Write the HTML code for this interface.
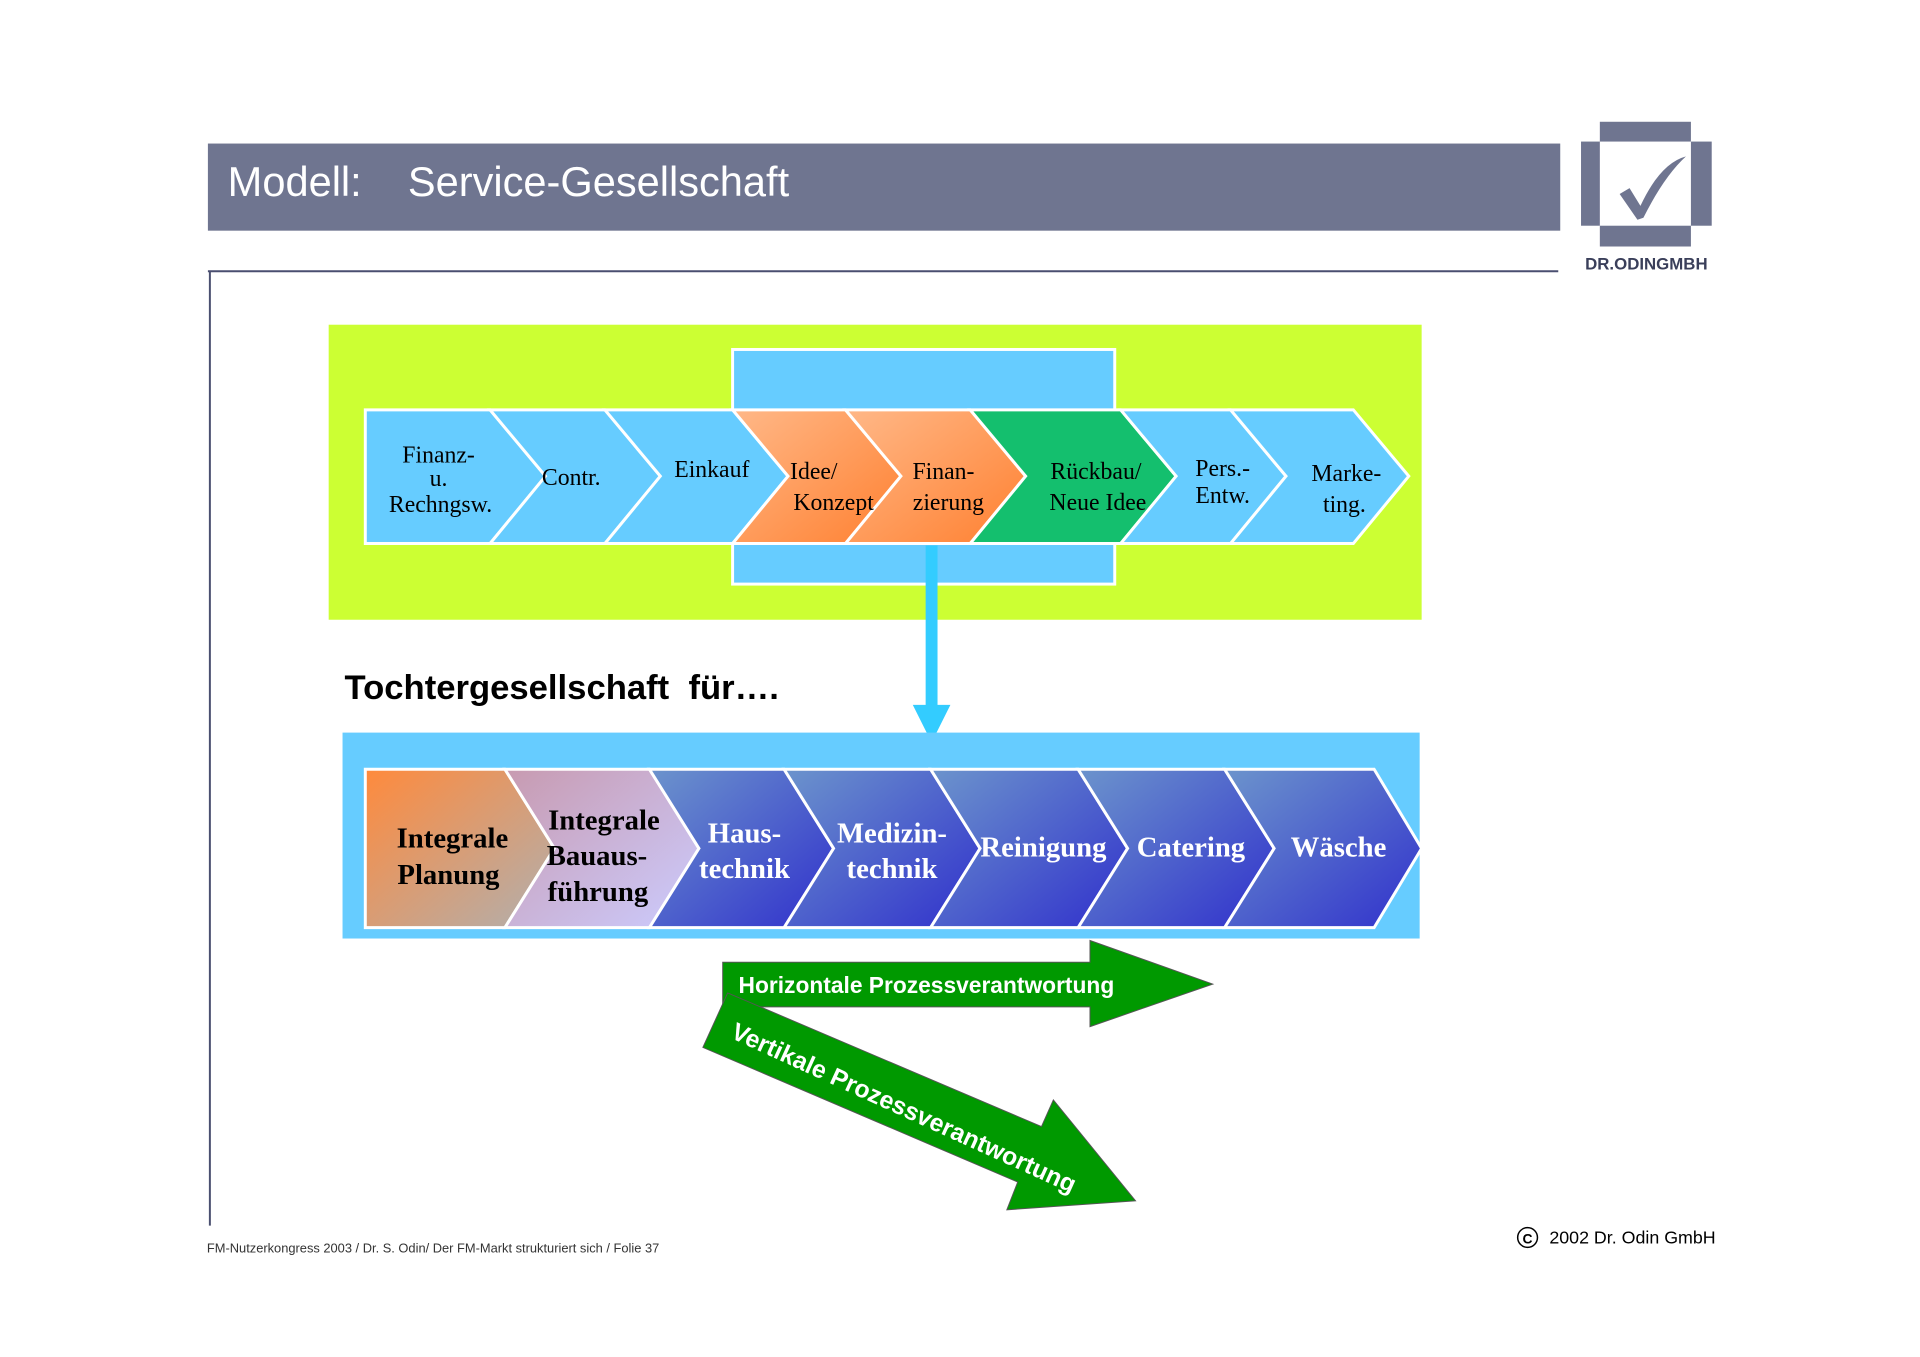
<!DOCTYPE html>
<html><head><meta charset="utf-8"><style>
html,body{margin:0;padding:0;background:#fff;}
svg{display:block;}
</style></head><body>
<svg width="1920" height="1357" viewBox="0 0 1920 1357" xmlns="http://www.w3.org/2000/svg" font-family="Liberation Serif, serif">
<defs>
<linearGradient id="or" x1="0" y1="0" x2="1" y2="1"><stop offset="0" stop-color="#ffb888"/><stop offset="1" stop-color="#ff8030"/></linearGradient>
<linearGradient id="bl" x1="0" y1="0" x2="1" y2="1"><stop offset="0" stop-color="#6c94cc"/><stop offset="1" stop-color="#3030cc"/></linearGradient>
<linearGradient id="p1" x1="0" y1="0" x2="1" y2="1"><stop offset="0" stop-color="#ff8a3c"/><stop offset="1" stop-color="#b0b0b0"/></linearGradient>
<linearGradient id="p2" x1="0" y1="0" x2="1" y2="1"><stop offset="0" stop-color="#c89ab0"/><stop offset="1" stop-color="#ccccff"/></linearGradient>
</defs>
<g transform="scale(0.99)">
<!-- header -->
<rect x="210" y="145" width="1366" height="88" fill="#6f7590"/>
<text x="230" y="198" font-family="Liberation Sans, sans-serif" font-size="42" fill="#fff">Modell:</text>
<text x="412" y="198" font-family="Liberation Sans, sans-serif" font-size="42" fill="#fff">Service-Gesellschaft</text>
<!-- logo -->
<g transform="translate(17,0)">
<rect x="1599" y="123" width="92" height="20" fill="#6f7590"/>
<rect x="1599" y="228" width="92" height="21" fill="#6f7590"/>
<rect x="1580" y="143" width="19" height="85" fill="#6f7590"/>
<rect x="1691" y="143" width="21" height="85" fill="#6f7590"/>
<path d="M1619 196 L1629 190 L1640 208 Q1660 165 1686 158 Q1664 178 1643 220 L1637 222 Z" fill="#6f7590"/>
<text x="1646" y="272" text-anchor="middle" font-family="Liberation Sans, sans-serif" font-weight="bold" font-size="17" fill="#3a3f5a">DR.ODINGMBH</text>
</g>
<line x1="210" y1="274" x2="1574" y2="274" stroke="#4a4f70" stroke-width="2"/>
<line x1="212" y1="274" x2="212" y2="1238" stroke="#4a4f70" stroke-width="2"/>
<!-- green box -->
<rect x="332" y="328" width="1104" height="298" fill="#ccff33"/>
<rect x="740" y="353" width="386" height="237" fill="#66ccff" stroke="#fff" stroke-width="3"/>
<g stroke="#fff" stroke-width="3">
<polygon points="369,414 495,414 551,481 495,549 369,549" fill="#66ccff"/>
<polygon points="495,414 611,414 667,481 611,549 495,549 551,481" fill="#66ccff"/>
<polygon points="611,414 740,414 796,481 740,549 611,549 667,481" fill="#66ccff"/>
<polygon points="740,414 854,414 910,481 854,549 740,549 796,481" fill="url(#or)"/>
<polygon points="854,414 980,414 1036,481 980,549 854,549 910,481" fill="url(#or)"/>
<polygon points="980,414 1132,414 1188,481 1132,549 980,549 1036,481" fill="#14bf6e"/>
<polygon points="1132,414 1243,414 1299,481 1243,549 1132,549 1188,481" fill="#66ccff"/>
<polygon points="1243,414 1367,414 1423,481 1367,549 1243,549 1299,481" fill="#66ccff"/>
</g>
<g font-size="24" fill="#000" text-anchor="middle">
<text x="443" y="467">Finanz-</text><text x="443" y="491">u.</text><text x="445" y="517">Rechngsw.</text>
<text x="577" y="490">Contr.</text>
<text x="719" y="482">Einkauf</text>
<text x="822" y="484">Idee/</text><text x="842" y="515">Konzept</text>
<text x="953" y="484">Finan-</text><text x="958" y="515">zierung</text>
<text x="1107" y="484">Rückbau/</text><text x="1109" y="515">Neue Idee</text>
<text x="1235" y="481">Pers.-</text><text x="1235" y="508">Entw.</text>
<text x="1360" y="486">Marke-</text><text x="1358" y="517">ting.</text>
</g>
<!-- vertical arrow -->
<rect x="935" y="551" width="12" height="166" fill="#33ccff"/>
<polygon points="922,712 960,712 941,750" fill="#33ccff"/>
<text x="348" y="706" font-family="Liberation Sans, sans-serif" font-weight="bold" font-size="35" fill="#000" xml:space="preserve">Tochtergesellschaft  für….</text>
<!-- blue box -->
<rect x="346" y="740" width="1088" height="208" fill="#66ccff"/>
<g stroke="#fff" stroke-width="3">
<polygon points="369,777 510,777 560,857 510,937 369,937" fill="url(#p1)"/>
<polygon points="510,777 656,777 706,857 656,937 510,937 560,857" fill="url(#p2)"/>
<polygon points="656,777 792,777 842,857 792,937 656,937 706,857" fill="url(#bl)"/>
<polygon points="792,777 940,777 990,857 940,937 792,937 842,857" fill="url(#bl)"/>
<polygon points="940,777 1089,777 1139,857 1089,937 940,937 990,857" fill="url(#bl)"/>
<polygon points="1089,777 1237,777 1287,857 1237,937 1089,937 1139,857" fill="url(#bl)"/>
<polygon points="1237,777 1388,777 1436,857 1388,937 1237,937 1287,857" fill="url(#bl)"/>
</g>
<g font-size="29" font-weight="bold" text-anchor="middle">
<text x="457" y="856" fill="#000">Integrale</text><text x="453" y="893" fill="#000">Planung</text>
<text x="610" y="838" fill="#000">Integrale</text><text x="603" y="874" fill="#000">Bauaus-</text><text x="604" y="910" fill="#000">führung</text>
<g fill="#fff">
<text x="752" y="851">Haus-</text><text x="752" y="887">technik</text>
<text x="901" y="851">Medizin-</text><text x="901" y="887">technik</text>
<text x="1054" y="865">Reinigung</text>
<text x="1203" y="865">Catering</text>
<text x="1352" y="865">Wäsche</text>
</g></g>
<!-- horizontal arrow -->
<polygon points="730,972 1101,972 1101,950 1225,994 1101,1037 1101,1017 730,1017" fill="#009900" stroke="#555" stroke-width="1"/>
<text x="746" y="1003" font-family="Liberation Sans, sans-serif" font-weight="bold" font-size="23" fill="#fff">Horizontale Prozessverantwortung</text>
<!-- diagonal arrow -->
<polygon points="735,1003 1052,1138 1064,1111 1147,1213 1017,1222 1028,1194 710,1058" fill="#009900" stroke="#555" stroke-width="1"/>
<text transform="translate(737,1048) rotate(24.5)" font-family="Liberation Sans, sans-serif" font-weight="bold" font-size="25" fill="#fff">Vertikale Prozessverantwortung</text>
<!-- footer -->
<text x="209" y="1265" font-family="Liberation Sans, sans-serif" font-size="13" fill="#333">FM-Nutzerkongress 2003 / Dr. S. Odin/ Der FM-Markt strukturiert sich / Folie 37</text>
<circle cx="1543" cy="1250" r="10" fill="none" stroke="#000" stroke-width="1.5"/>
<text x="1543" y="1256" text-anchor="middle" font-family="Liberation Sans, sans-serif" font-weight="bold" font-size="14">C</text>
<text x="1565" y="1256" font-family="Liberation Sans, sans-serif" font-size="18" fill="#000">2002 Dr. Odin GmbH</text>
</g>
</svg>
</body></html>
